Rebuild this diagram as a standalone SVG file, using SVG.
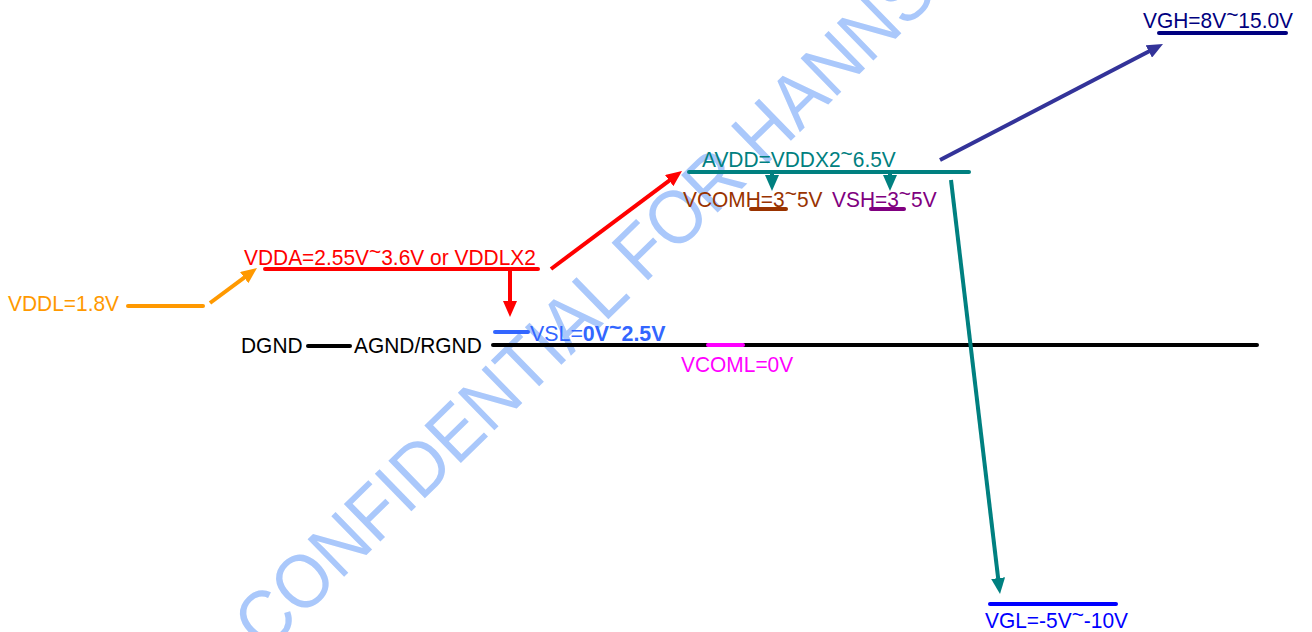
<svg xmlns="http://www.w3.org/2000/svg" width="1312" height="632" viewBox="0 0 1312 632">
<style>
text{font-family:"Liberation Sans",Arial,sans-serif;font-size:22.5px}
.ln{stroke-width:4;stroke-linecap:round;fill:none}
.ar{stroke-width:4;stroke-linecap:butt;fill:none}
.wm{font-size:76px;fill:#aac8fb}
</style>
<defs>
<marker id="mOr" markerUnits="userSpaceOnUse" markerWidth="16" markerHeight="14" refX="8" refY="7" orient="auto"><path d="M0,0 L16,7 L0,14 z" fill="#ff9900"/></marker>
<marker id="mRd" markerUnits="userSpaceOnUse" markerWidth="16" markerHeight="14" refX="8" refY="7" orient="auto"><path d="M0,0 L16,7 L0,14 z" fill="#ff0000"/></marker>
<marker id="mTl" markerUnits="userSpaceOnUse" markerWidth="16" markerHeight="14" refX="8" refY="7" orient="auto"><path d="M0,0 L16,7 L0,14 z" fill="#008080"/></marker>
<marker id="mDb" markerUnits="userSpaceOnUse" markerWidth="16" markerHeight="14" refX="8" refY="7" orient="auto"><path d="M0,0 L16,7 L0,14 z" fill="#333399"/></marker>
</defs>
<rect width="1312" height="632" fill="#ffffff"/>
<text class="wm" transform="translate(265,654.1) rotate(-44.3) scale(0.92,1)">CONFIDENTIAL FOR HANNSTAR</text>

<g id="vddl">
<text transform="translate(8,311) scale(0.93,1)" fill="#ff9900">VDDL=1.8V</text>
<line class="ln" x1="128" y1="306" x2="203" y2="306" stroke="#ff9900"/>
</g>
<g id="vdda">
<text transform="translate(244,265) scale(0.93,1)" fill="#ff0000">VDDA=2.55V<tspan dy="-6">~</tspan><tspan dy="6">3.6V or VDDLX2</tspan></text>
<line class="ln" x1="265" y1="269" x2="538" y2="269" stroke="#ff0000"/>
</g>
<g id="vsl">
<line class="ln" x1="495" y1="332" x2="528" y2="332" stroke="#3366ff"/>
<text transform="translate(530,341) scale(0.95,1)" fill="#3366ff">VSL=<tspan font-weight="bold">0V<tspan dy="-6">~</tspan><tspan dy="6">2.5V</tspan></tspan></text>
</g>
<g id="gnd">
<text transform="translate(241,353) scale(0.93,1)" fill="#000000">DGND</text>
<line class="ln" x1="308" y1="346" x2="350" y2="346" stroke="#000000"/>
<text transform="translate(354,353) scale(0.93,1)" fill="#000000">AGND/RGND</text>
<line class="ln" x1="493" y1="345" x2="1257" y2="345" stroke="#000000"/>
</g>
<g id="vcoml">
<line class="ln" x1="708" y1="345" x2="743" y2="345" stroke="#ff00ff"/>
<text transform="translate(681,372) scale(0.93,1)" fill="#ff00ff">VCOML=0V</text>
</g>
<g id="avdd">
<text transform="translate(702,167) scale(0.93,1)" fill="#008080">AVDD=VDDX2<tspan dy="-6">~</tspan><tspan dy="6">6.5V</tspan></text>
<line class="ln" x1="689" y1="172" x2="969" y2="172" stroke="#008080"/>
</g>
<g id="vcomh">
<text transform="translate(683,207) scale(0.93,1)" fill="#993300">VCOMH=3<tspan dy="-6">~</tspan><tspan dy="6">5V</tspan></text>
<line class="ln" x1="751" y1="209" x2="786" y2="209" stroke="#993300"/>
</g>
<g id="vsh">
<text transform="translate(832,207) scale(0.93,1)" fill="#800080">VSH=3<tspan dy="-6">~</tspan><tspan dy="6">5V</tspan></text>
<line class="ln" x1="871" y1="209" x2="904" y2="209" stroke="#800080"/>
</g>
<g id="vgh">
<text transform="translate(1143,28) scale(0.93,1)" fill="#000080">VGH=8V<tspan dy="-6">~</tspan><tspan dy="6">15.0V</tspan></text>
<line class="ln" x1="1159" y1="33" x2="1286" y2="33" stroke="#000080"/>
</g>
<g id="vgl">
<line class="ln" x1="990" y1="604" x2="1116" y2="604" stroke="#0000ff"/>
<text transform="translate(985,628) scale(0.93,1)" fill="#0000ff">VGL=-5V<tspan dy="-6">~</tspan><tspan dy="6">-10V</tspan></text>
</g>

<g id="connectors">
<line class="ar" x1="210" y1="303" x2="250.6" y2="272.8" stroke="#ff9900" marker-end="url(#mOr)"/>
<line class="ar" x1="510" y1="271" x2="510" y2="309" stroke="#ff0000" marker-end="url(#mRd)"/>
<line class="ar" x1="551" y1="269" x2="675.6" y2="175.8" stroke="#ff0000" marker-end="url(#mRd)"/>
<line class="ar" x1="772" y1="174" x2="772" y2="183" stroke="#008080" marker-end="url(#mTl)"/>
<line class="ar" x1="890" y1="174" x2="890" y2="183" stroke="#008080" marker-end="url(#mTl)"/>
<line class="ar" x1="940" y1="160" x2="1155.9" y2="47.7" stroke="#333399" marker-end="url(#mDb)"/>
<line class="ar" x1="951" y1="180" x2="999.06" y2="586.06" stroke="#008080" marker-end="url(#mTl)"/>
</g>
</svg>
